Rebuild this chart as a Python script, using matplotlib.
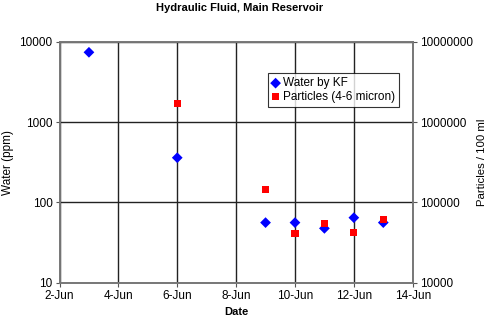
import matplotlib
matplotlib.use("Agg")
import matplotlib.pyplot as plt
import matplotlib.dates as mdates
import datetime as dt

# data (June)
water_days = [3, 6, 9, 10, 11, 12, 13]
water_ppm = [7400, 360, 56, 56, 47.5, 64.5, 56]
part_days = [6, 9, 10, 11, 12, 13]
particles = [1720000, 143000, 40500, 55000, 42000, 61000]
tick_days = [2, 4, 6, 8, 10, 12, 14]

plt.rcParams['font.family'] = ['Liberation Sans', 'DejaVu Sans']


def to_dates(days):
    return [dt.date(2000, 6, d) for d in days]


fig = plt.figure(figsize=(4.89, 3.24), dpi=100)
ax = fig.add_axes([0.1217, 0.1275, 0.7223, 0.7435])
ax2 = ax.twinx()

ax.scatter(to_dates(water_days), water_ppm, marker='D', s=30, color='#0000ff',
           edgecolors='none', label='Water by KF', zorder=3)
ax2.scatter(to_dates(part_days), particles, marker='s', s=26, color='#ff0000',
            edgecolors='none', label='Particles (4-6 micron)', zorder=3)

ax.set_yscale('log')
ax2.set_yscale('log')
ax.set_ylim(10, 10000)
ax2.set_ylim(10000, 10000000)
ax.set_xlim(to_dates([2])[0], to_dates([14])[0])
ax.set_xticks(to_dates(tick_days))
ax.xaxis.set_major_formatter(mdates.DateFormatter('%-d-%b'))
ax.minorticks_off()
ax2.minorticks_off()

ax.yaxis.set_major_formatter(matplotlib.ticker.FuncFormatter(lambda v, p: '%d' % v))
ax2.yaxis.set_major_formatter(matplotlib.ticker.FuncFormatter(lambda v, p: '%d' % v))

ax.grid(True, which='major', color='#222222', linewidth=1)
ax.set_axisbelow(True)
for a in (ax, ax2):
    for s in a.spines.values():
        s.set_color('#777777')
        s.set_linewidth(1.2)
    a.tick_params(labelsize=8.5, length=3, color='#555555', pad=2)

ax.set_xlabel('Date', fontsize=8, fontweight='bold', labelpad=4)
ax.set_ylabel('Water (ppm)', fontsize=8.5, labelpad=4)
ax2.set_ylabel('Particles / 100 ml', fontsize=8.2, labelpad=3)
fig.suptitle('Hydraulic Fluid, Main Reservoir', fontsize=8, fontweight='bold',
             x=0.49, y=0.99)

h1, l1 = ax.get_legend_handles_labels()
h2, l2 = ax2.get_legend_handles_labels()
leg = ax2.legend(h1 + h2, l1 + l2, loc='upper left', bbox_to_anchor=(0.59, 0.87),
                 fontsize=8.5, frameon=True, fancybox=False, edgecolor='black',
                 handlelength=0.6, handletextpad=0.3, borderpad=0.35,
                 labelspacing=0.15, borderaxespad=0)
leg.get_frame().set_linewidth(0.8)

fig.savefig('out.png', dpi=100)
